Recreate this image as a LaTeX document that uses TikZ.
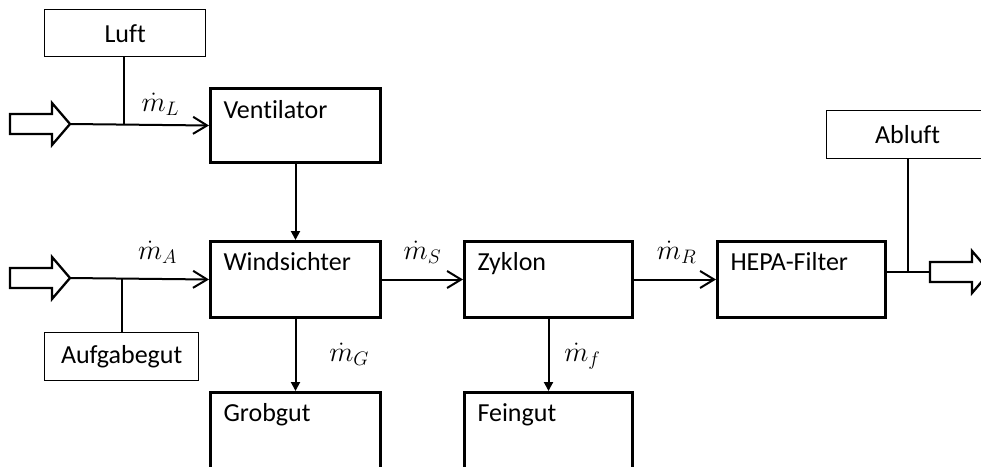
\documentclass[tikz,border=0pt]{standalone}
\usepackage{fontspec}
\setmainfont{Carlito}[Ligatures=CommonOff]
\usetikzlibrary{arrows.meta,calc}
\begin{document}
\begin{tikzpicture}[x=1pt,y=-1pt,
  font=\fontsize{26}{30}\selectfont,
  proc/.style={draw, line width=3pt, anchor=north west, inner xsep=13pt, inner ysep=0pt,
    text width=#1, align=left},
  ext/.style={draw, line width=1.3pt, anchor=north west, inner sep=0pt, text width=#1, align=center},
  flow/.style={line width=2pt, -{Straight Barb[length=14pt,width=17pt,line width=2pt]}},
  down/.style={line width=2pt, -{Triangle[length=9pt,width=9pt]}},
  thin/.style={line width=1.3pt},
  lab/.style={anchor=base, inner sep=0pt, scale=1.13},
  hollow/.pic={\draw[line width=2.3pt, line join=miter, fill=white]
     (0,-10) -- (42,-10) -- (42,-21) -- (60,0) -- (42,21) -- (42,10) -- (0,10) -- cycle;}
]
\useasboundingbox (0,0) rectangle (981,466);
\clip (0,0) rectangle (981,466);

% boxes
\node[proc=144pt, text height=30pt, text depth=44pt] (vent) at (209,87) {Ventilator};
\node[proc=144pt, text height=29pt, text depth=47pt] (wind) at (209,240) {Windsichter};
\node[proc=142pt, text height=29pt, text depth=47pt] (zyk) at (463,240) {Zyklon};
\node[proc=142pt, text height=29pt, text depth=47pt] (hepa) at (716,240) {HEPA-Filter};
\node[proc=144pt, text height=29pt, text depth=51pt] (grob) at (209,391) {Grobgut};
\node[proc=142pt, text height=29pt, text depth=51pt] (fein) at (463,391) {Feingut};

\node[ext=161pt, text height=33pt, text depth=14pt] (luft) at (44,9) {Luft};
\node[ext=154pt, text height=31pt, text depth=17pt] (aufg) at (44,332) {Aufgabegut};
\node[ext=162pt, text height=33pt, text depth=15pt] (abl) at (826,110) {Abluft};

% hollow arrows
\pic at (10,124) {hollow};
\pic at (10,278) {hollow};
\pic at (930,272) {hollow};
\coordinate (inL) at (70,124);
\coordinate (inA) at (70,278);
\coordinate (outR) at (930,272);
\coordinate (jL) at (124,124);
\coordinate (jA) at (122,278);
\coordinate (jR) at (908,272);

% connectors
\draw[thin] (luft.south -| jL) -- (jL);
\draw[flow] (inL) -- node[lab, pos=0.65, yshift=12pt] {$\dot{m}_L$} (vent.west);
\draw[down] (vent.south) -- (wind.north);
\draw[thin] (aufg.north -| jA) -- (jA);
\draw[flow] (inA) -- node[lab, pos=0.63, yshift=17pt] {$\dot{m}_A$} (wind.west);
\draw[flow] (wind.east) -- node[lab, pos=0.5, yshift=18pt] {$\dot{m}_S$} (zyk.west);
\draw[flow] (zyk.east) -- node[lab, pos=0.52, yshift=18pt] {$\dot{m}_R$} (hepa.west);
\draw[down] (wind.south) -- node[lab, anchor=base west, pos=0.59, xshift=29pt] {$\dot{m}_G$} (grob.north);
\draw[down] (zyk.south) -- node[lab, anchor=base west, pos=0.59, xshift=13pt] {$\dot{m}_f$} (fein.north);
\draw[line width=2pt] (hepa.east |- outR) -- (outR);
\draw[thin] (abl.south -| jR) -- (jR);
\end{tikzpicture}
\end{document}
